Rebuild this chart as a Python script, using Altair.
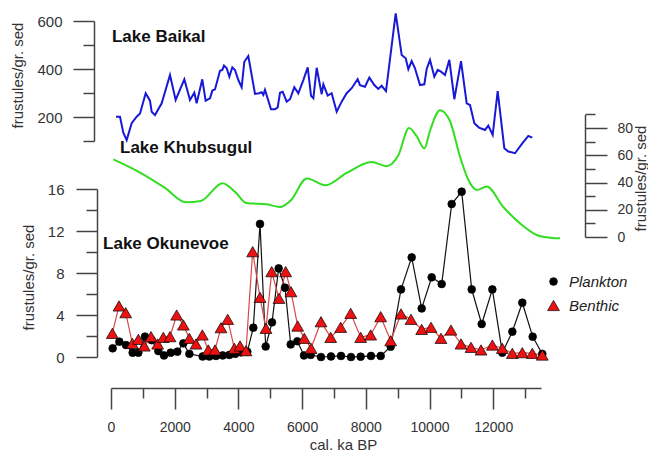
import altair as alt
import pandas as pd

FONT = "Liberation Sans, Arial, sans-serif"

# ---------------- data ----------------
baikal_age = [157, 283, 387, 492, 649, 806, 911, 1089, 1224, 1277, 1381, 1591, 1852, 2030, 2302, 2480,
              2616, 2689, 2866, 2971, 3108, 3181, 3265, 3422, 3495, 3548, 3632, 3715, 3809, 3893, 3997,
              4102, 4185, 4311, 4521, 4647, 4731, 4783, 4835, 5023, 5149, 5233, 5306, 5390, 5515, 5620,
              5755, 5881, 6038, 6176, 6280, 6353, 6458, 6614, 6667, 6803, 6928, 7085, 7242, 7399, 7556,
              7744, 7817, 7974, 8110, 8267, 8393, 8497, 8634, 8938, 9126, 9252, 9335, 9440, 9544, 9701,
              9837, 9911, 10015, 10151, 10256, 10360, 10486, 10622, 10779, 10989, 11167, 11271, 11407,
              11553, 11742, 11845, 11983, 12140, 12348, 12474, 12684, 12913, 13102, 13227]
baikal_val = [201, 201, 135, 104, 174, 201, 215, 299, 268, 222, 208, 257, 375, 271, 357, 271,
              301, 257, 357, 268, 278, 310, 315, 393, 396, 414, 403, 368, 407, 396, 354,
              324, 430, 454, 296, 299, 303, 292, 313, 232, 232, 240, 301, 305, 264, 274,
              324, 299, 354, 407, 288, 278, 405, 295, 336, 289, 299, 222, 264, 299, 320,
              358, 333, 326, 364, 333, 317, 330, 308, 632, 458, 445, 399, 433, 403, 333,
              336, 400, 438, 368, 396, 389, 375, 438, 274, 433, 257, 250, 174,
              156, 146, 164, 125, 308, 70, 56, 49, 90, 121, 114]

khub_age = [73, 857, 1695, 2350, 2820, 3500, 3900, 4250, 4900, 5306, 5650, 6144, 6740, 7400, 8184,
            8654, 9021, 9356, 9597, 9837, 10015, 10329, 10643, 10957, 11218, 11480, 11795, 12317,
            12841, 13364, 13783, 14097]
khub_val = [57, 48, 36, 25.5, 26.5, 39.5, 33, 25, 24, 22, 27, 43, 38, 47, 55,
            52, 60, 80, 74, 65, 78, 93, 85, 59, 42, 34.5, 37, 22,
            10, 1.5, -0.5, -1]

plank_age = [52, 262, 471, 680, 858, 1067, 1277, 1486, 1664, 1873, 2083, 2271, 2460, 2878, 3087,
             3297, 3506, 3715, 3900, 4080, 4280, 4468, 4678, 4856, 5055, 5264, 5463, 5641, 5850,
             6059, 6269, 6593, 6907, 7221, 7535, 7838, 8163, 8467, 8781, 9105, 9440, 9754, 10068,
             10382, 10696, 11010, 11324, 11638, 11973, 12286, 12600, 12913, 13238, 13541]
plank_val = [0.83, 1.46, 1.14, 0.41, 0.41, 1.94, 1.6, 0.57, 0.15, 0.41, 0.51, 1.3, 0.3, 0.05, 0.05,
             0.1, 0.15, 0.2, 0.3, 0.45, 0.5, 2.79, 12.67, 1.0, 3.3, 8.44, 6.6, 1.2, 1.5,
             0.15, 0.2, 0.0, 0.05, 0.1, 0.0, 0.03, 0.1, 0.1, 0.98, 6.44, 9.49, 4.63, 7.59,
             6.95, 14.57, 15.75, 6.44, 3.14, 6.44, 0.41, 2.41, 5.17, 1.94, 0.29]

benth_age = [42, 251, 461, 670, 858, 1046, 1256, 1465, 1643, 1852, 2062, 2271, 2460, 2669, 2868,
             3055, 3265, 3453, 3663, 3872, 4050, 4238, 4447, 4678, 4866, 5045, 5274, 5484, 5651,
             5861, 6070, 6280, 6593, 6897, 7211, 7525, 7838, 8153, 8467, 8781, 9105, 9419, 9754,
             10047, 10360, 10674, 10989, 11303, 11617, 11973, 12286, 12600, 12913, 13227, 13541]
benth_val = [2.25, 4.86, 4.22, 1.3, 1.68, 1.05, 1.94, 1.24, 1.87, 1.94, 4.0, 3.05, 1.78, 1.24, 2.1,
             0.67, 0.67, 2.79, 3.59, 0.83, 1.05, 0.6, 10.03, 5.68, 2.73, 8.13, 5.59, 8.13, 6.22,
             2.95, 1.78, 0.83, 3.36, 1.87, 2.83, 4.16, 1.87, 2.1, 3.84, 1.55, 4.1, 3.59, 2.63,
             2.83, 1.78, 2.57, 1.24, 0.92, 0.67, 1.14, 0.83, 0.35, 0.41, 0.35, 0.19]

series_names = ["Plankton", "Benthic"]
lake_names = ["Lake Baikal", "Lake Khubsugul", "Lake Okunevoe"]
lake_label_age = [30, 283, -250]
lake_label_val = [514, 62, 10.3]

x_major = [0, 2000, 4000, 6000, 8000, 10000, 12000]
x_minor = [1000, 3000, 5000, 7000, 9000, 11000, 13000]
baikal_major = [200, 400, 600]
baikal_minor = [100, 300, 500]
okun_major = [0, 4, 8, 12, 16]
okun_minor = [2, 6, 10, 14]
khub_major = [0, 20, 40, 60, 80]
khub_minor = [10, 30, 50, 70, 90]

y_title = "frustules/gr. sed"
x_title = "cal. ka BP"

# ---------------- frames ----------------
df_baikal = pd.DataFrame({"age": baikal_age, "val": baikal_val})
df_khub = pd.DataFrame({"age": khub_age, "val": khub_val})
df_plank = pd.DataFrame({"age": plank_age, "val": plank_val})
df_benth = pd.DataFrame({"age": benth_age, "val": benth_val})
df_pts = pd.concat([
    pd.DataFrame({"age": plank_age, "val": plank_val, "type": series_names[0]}),
    pd.DataFrame({"age": benth_age, "val": benth_val, "type": series_names[1]}),
], ignore_index=True)
df_pts["idx"] = range(len(df_pts))
df_lab = [pd.DataFrame({"age": [a], "val": [v], "txt": [t]})
          for a, v, t in zip(lake_label_age, lake_label_val, lake_names)]

# ---------------- scales ----------------
def xs():
    return alt.Scale(domain=[0, 13500], range=[17, 447], nice=False, zero=False)

def ys_baikal():
    return alt.Scale(domain=[100, 600], range=[131, 11], nice=False, zero=False)

def ys_khub():
    return alt.Scale(domain=[0, 90], range=[227, 104.4], nice=False, zero=False)

def ys_okun():
    return alt.Scale(domain=[0, 16], range=[347, 179], nice=False, zero=False)

AXC = "#444444"
LBC = "#333333"

def major_axis(values, orient, offset, title, tx, ty, tick=21, pad=11, angle=270, lsize=15):
    return alt.Axis(values=values, orient=orient, offset=offset, tickSize=tick, labelPadding=pad,
                    format="d",
                    domainColor=AXC, tickColor=AXC, domainWidth=1.5, tickWidth=1.5,
                    labelColor=LBC, labelFont=FONT, labelFontSize=lsize, labelFlush=False,
                    grid=False, title=title, titleFont=FONT, titleFontSize=15,
                    titleFontWeight="normal", titleColor=LBC, titleAngle=angle,
                    titleAlign="center", titleBaseline="middle", titleX=tx, titleY=ty)

def minor_axis(values, orient, offset, tick=11):
    return alt.Axis(values=values, orient=orient, offset=offset, tickSize=tick, labels=False,
                    domain=False, grid=False, tickColor=AXC, tickWidth=1.5, title=None)

def legend():
    return alt.Legend(orient="none", legendX=452, legendY=264, title=None,
                      labelFont=FONT, labelFontSize=15, labelFontStyle="italic",
                      labelColor="#222222", padding=0, rowPadding=8, labelOffset=8,
                      symbolStrokeColor="black", symbolStrokeWidth=0.7)

# ---------------- layers ----------------
baikal_line = alt.Chart(df_baikal).mark_line(color="#1818d8", strokeWidth=2).encode(
    x=alt.X("age:Q", scale=xs(), axis=None),
    y=alt.Y("val:Q", scale=ys_baikal(),
            axis=major_axis(baikal_major, "left", 0, y_title, -77, 65)),
)

khub_line = alt.Chart(df_khub).mark_line(color="#33dd22", strokeWidth=2, interpolate="monotone").encode(
    x=alt.X("age:Q", scale=xs(), axis=None),
    y=alt.Y("val:Q", scale=ys_khub(),
            axis=major_axis(khub_major, "right", 0, y_title, 55, 168, tick=22, pad=10, lsize=14)),
)

plank_line = alt.Chart(df_plank).mark_line(color="#111111", strokeWidth=1.2).encode(
    x=alt.X("age:Q", scale=xs(),
            axis=major_axis(x_major, "bottom", 0, x_title, 249, 56, tick=21, pad=11, angle=0, lsize=14)),
    y=alt.Y("val:Q", scale=ys_okun(),
            axis=major_axis(okun_major, "left", -3, y_title, -69, 267, pad=12)),
)

benth_line = alt.Chart(df_benth).mark_line(color="#d84848", strokeWidth=1.2).encode(
    x=alt.X("age:Q", scale=xs(), axis=minor_axis(x_minor, "bottom", 0, tick=10)),
    y=alt.Y("val:Q", scale=ys_okun(), axis=minor_axis(okun_minor, "left", -3)),
)

points = alt.Chart(df_pts).mark_point(filled=True, opacity=1, stroke="black", strokeWidth=0.7).encode(
    x=alt.X("age:Q", scale=xs(), axis=None),
    y=alt.Y("val:Q", scale=ys_okun(), axis=None),
    color=alt.Color("type:N", scale=alt.Scale(domain=series_names, range=["#000000", "#ee1111"]),
                    legend=legend()),
    shape=alt.Shape("type:N", scale=alt.Scale(domain=series_names, range=["circle", "triangle-up"]),
                    legend=legend()),
    size=alt.Size("type:N", scale=alt.Scale(domain=series_names, range=[60, 140]), legend=legend()),
    order=alt.Order("idx:Q"),
)

def text_layer(df, yscale, yaxis):
    return alt.Chart(df).mark_text(align="left", baseline="alphabetic", font=FONT,
                                   fontSize=17, fontWeight="bold", color="#111111").encode(
        x=alt.X("age:Q", scale=xs(), axis=None),
        y=alt.Y("val:Q", scale=yscale, axis=yaxis),
        text="txt:N",
    )

t_baikal = text_layer(df_lab[0], ys_baikal(), minor_axis(baikal_minor, "left", 0))
t_khub = text_layer(df_lab[1], ys_khub(), minor_axis(khub_minor, "right", 0, tick=10))
t_okun = text_layer(df_lab[2], ys_okun(), None)

chart = alt.layer(
    baikal_line, khub_line, plank_line, benth_line, points, t_baikal, t_khub, t_okun
).resolve_scale(
    x="independent", y="independent"
).resolve_axis(
    x="independent", y="independent"
).properties(
    width=491, height=378,
    padding={"left": 86, "top": 2, "right": 63, "bottom": 63},
    autosize=alt.AutoSizeParams(type="none"),
    background="white",
).configure_view(stroke="transparent")

chart.save("out.html", embed_options={"renderer": "svg", "actions": False})
